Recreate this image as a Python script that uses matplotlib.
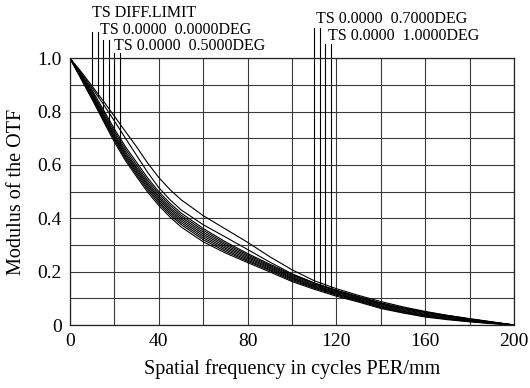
import matplotlib
matplotlib.use('Agg')
import matplotlib.pyplot as plt
import numpy as np

# ---- data ----
freq = [0, 5, 10, 15, 20, 25, 30, 35, 40, 45, 50, 60, 70, 80, 90, 100, 110, 120, 130, 140, 150, 160, 170, 180, 190, 200]

mtf_diff_t = [1, 0.950, 0.895, 0.840, 0.783, 0.725, 0.668, 0.607, 0.553, 0.508, 0.470, 0.410, 0.360, 0.310, 0.256, 0.207, 0.166, 0.136, 0.111, 0.088, 0.068, 0.051, 0.036, 0.023, 0.011, 0]
mtf_diff_s = [1, 0.945, 0.888, 0.828, 0.765, 0.700, 0.636, 0.572, 0.515, 0.470, 0.432, 0.376, 0.330, 0.283, 0.236, 0.192, 0.158, 0.130, 0.106, 0.083, 0.064, 0.048, 0.034, 0.021, 0.010, 0]
mtf_f00_t = [1, 0.940, 0.880, 0.808, 0.735, 0.668, 0.610, 0.551, 0.500, 0.457, 0.420, 0.362, 0.312, 0.268, 0.228, 0.190, 0.157, 0.130, 0.106, 0.082, 0.064, 0.049, 0.036, 0.024, 0.012, 0]
mtf_f00_s = [1, 0.937, 0.874, 0.800, 0.726, 0.659, 0.600, 0.542, 0.492, 0.449, 0.412, 0.355, 0.306, 0.263, 0.224, 0.186, 0.154, 0.127, 0.103, 0.079, 0.061, 0.046, 0.034, 0.022, 0.011, 0]
mtf_f05_t = [1, 0.934, 0.868, 0.793, 0.718, 0.650, 0.591, 0.534, 0.484, 0.441, 0.405, 0.348, 0.300, 0.258, 0.220, 0.182, 0.150, 0.124, 0.100, 0.077, 0.058, 0.043, 0.031, 0.020, 0.010, 0]
mtf_f05_s = [1, 0.931, 0.863, 0.787, 0.711, 0.643, 0.584, 0.527, 0.477, 0.434, 0.398, 0.341, 0.294, 0.253, 0.216, 0.178, 0.147, 0.121, 0.097, 0.074, 0.055, 0.040, 0.029, 0.018, 0.009, 0]
mtf_f07_t = [1, 0.929, 0.858, 0.781, 0.705, 0.636, 0.577, 0.520, 0.470, 0.427, 0.391, 0.334, 0.288, 0.248, 0.212, 0.175, 0.144, 0.118, 0.094, 0.071, 0.052, 0.037, 0.026, 0.016, 0.008, 0]
mtf_f07_s = [1, 0.927, 0.854, 0.776, 0.699, 0.630, 0.570, 0.513, 0.463, 0.420, 0.384, 0.327, 0.282, 0.243, 0.208, 0.171, 0.141, 0.115, 0.092, 0.068, 0.050, 0.035, 0.024, 0.014, 0.007, 0]
mtf_f10_t = [1, 0.925, 0.850, 0.771, 0.693, 0.623, 0.563, 0.506, 0.456, 0.413, 0.377, 0.320, 0.276, 0.239, 0.204, 0.167, 0.138, 0.112, 0.089, 0.065, 0.047, 0.032, 0.022, 0.013, 0.006, 0]
mtf_f10_s = [1, 0.922, 0.845, 0.765, 0.686, 0.616, 0.556, 0.498, 0.448, 0.405, 0.368, 0.312, 0.270, 0.234, 0.199, 0.163, 0.134, 0.108, 0.086, 0.062, 0.045, 0.030, 0.020, 0.012, 0.005, 0]

curves = [mtf_diff_t, mtf_diff_s, mtf_f00_t, mtf_f00_s, mtf_f05_t, mtf_f05_s,
          mtf_f07_t, mtf_f07_s, mtf_f10_t, mtf_f10_s]

label_texts = ["TS DIFF.LIMIT", "TS 0.0000  0.0000DEG", "TS 0.0000  0.5000DEG",
               "TS 0.0000  0.7000DEG", "TS 0.0000  1.0000DEG"]

x_ticks = [0, 40, 80, 120, 160, 200]
y_ticks = [0, 0.2, 0.4, 0.6, 0.8, 1.0]
y_tick_labels = ["0", "0.2", "0.4", "0.6", "0.8", "1.0"]

# ---- layout ----
W, H = 530, 388
plt.rcParams['font.family'] = ['Liberation Serif', 'DejaVu Serif']
fig = plt.figure(figsize=(W / 100, H / 100), dpi=100)
ax_l, ax_r, ax_t, ax_b = 70, 514, 58.3, 325
ax = fig.add_axes([ax_l / W, 1 - ax_b / H, (ax_r - ax_l) / W, (ax_b - ax_t) / H])

ax.set_xlim(0, 200)
ax.set_ylim(0, 1.0)
# grid lines every 20 / 0.1
ax.set_xticks(np.arange(0, 201, 20))
ax.set_yticks(np.round(np.arange(0, 1.01, 0.1), 1))
ax.grid(True, color='#3a3a3a', lw=0.8)
ax.set_axisbelow(True)
ax.tick_params(length=0, labelsize=14, pad=6)
ax.set_xticklabels([str(v) if v in x_ticks else "" for v in range(0, 201, 20)])
ylabs = []
for v in np.round(np.arange(0, 1.01, 0.1), 1):
    ylabs.append(y_tick_labels[y_ticks.index(v)] if v in y_ticks else "")
ax.set_yticklabels(ylabs)
for s in ax.spines.values():
    s.set_color('#222222')
    s.set_linewidth(0.9)

for c in curves:
    ax.plot(freq, c, color='black', lw=0.8)

ax.set_xlabel("Spatial frequency in cycles PER/mm", fontsize=14.5, labelpad=6)
ax.set_ylabel("Modulus of the OTF", fontsize=14.5, labelpad=8)

# label leader lines
def px2v(ypx):
    return (ax_b - ypx) / (ax_b - ax_t)

lead_x = [10, 12.5, 15, 17.5, 20, 22.5, 110, 112.5, 115, 117.5]
lead_top = [32, 32, 40, 40, 53, 53, 28, 28, 44, 44]
for i, c in enumerate(curves):
    yb = np.interp(lead_x[i], freq, c)
    ax.plot([lead_x[i], lead_x[i]], [yb, px2v(lead_top[i])], color='black', lw=0.8, clip_on=False)

label_pos = [(92, 13), (100, 30), (114, 46), (316, 19), (328, 36)]
for t, (x, y) in zip(label_texts, label_pos):
    fig.text(x / W, 1 - y / H, t, fontsize=11.5, va='center', ha='left')

fig.savefig('out.png', dpi=100)
